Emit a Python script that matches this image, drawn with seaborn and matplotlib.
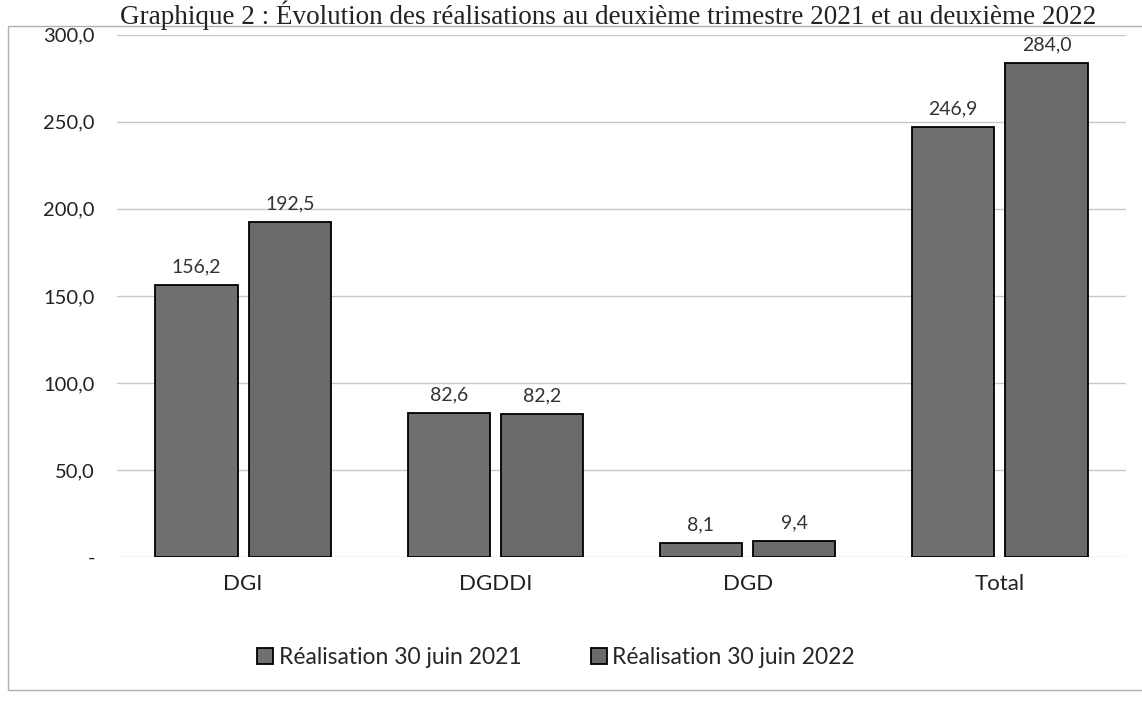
import numpy as np
import pandas as pd
import seaborn as sns
import matplotlib.pyplot as plt
from matplotlib.patches import Rectangle
from matplotlib.ticker import FuncFormatter

# donnees (milliards)
categories = ['DGI', 'DGDDI', 'DGD', 'Total']
real_2021 = [156.2, 82.6, 8.1, 246.9]
real_2022 = [192.5, 82.2, 9.4, 284.0]
series = ['Réalisation 30 juin 2021', 'Réalisation 30 juin 2022']
yticks = [0, 50, 100, 150, 200, 250, 300]

data = pd.DataFrame({
    'cat': categories * 2,
    'serie': [series[0]] * 4 + [series[1]] * 4,
    'val': real_2021 + real_2022,
})

sns.set_theme(style='white')
plt.rcParams['font.family'] = ['Lato', 'DejaVu Sans']

fig = plt.figure(figsize=(11.42, 7.01), dpi=100)
ax = fig.add_axes([0.1025, 0.2054, 0.8835, 0.745])

sns.barplot(data=data, x='cat', y='val', hue='serie', ax=ax,
            palette=['#707070', '#6a6a6a'], edgecolor='black', linewidth=1.3,
            width=0.74, gap=0.12, legend=True)

for c in ax.containers:
    ax.bar_label(c, labels=[f'{v:.1f}'.replace('.', ',') for v in c.datavalues],
                 padding=7, fontsize=14, color='#333333')

ax.set_ylim(0, 300)
ax.set_yticks(yticks)
ax.yaxis.set_major_formatter(FuncFormatter(
    lambda v, p: '-' if v == 0 else f'{v:.1f}'.replace('.', ',')))
ax.grid(axis='y', color='#c8c8c8', linewidth=1)
ax.set_axisbelow(True)
sns.despine(ax=ax, left=True, bottom=True)
ax.tick_params(axis='y', labelsize=14.5, pad=16, colors='#222222', length=0)
ax.tick_params(axis='x', labelsize=16, pad=12, colors='#222222', length=0)
ax.set_xlabel('')
ax.set_ylabel('')

h, l = ax.get_legend_handles_labels()
ax.legend_.remove()
fig.legend(h, l, loc='center', bbox_to_anchor=(0.487, 0.062), ncol=2, frameon=False,
           fontsize=16.5, handlelength=0.7, handleheight=0.7, handletextpad=0.25,
           columnspacing=3.0)

# cadre du graphique
fig.patches.append(Rectangle((0.007, 0.0157), 1.0, 0.9472, transform=fig.transFigure,
                             fill=False, edgecolor='#b0b0b0', linewidth=1))

fig.text(0.96, 0.9658, 'Graphique 2 : Évolution des réalisations au deuxième trimestre 2021 et au deuxième 2022',
         ha='right', va='baseline', fontsize=19.5, family='Liberation Serif', color='#222222')

plt.savefig('out.png', dpi=100)
